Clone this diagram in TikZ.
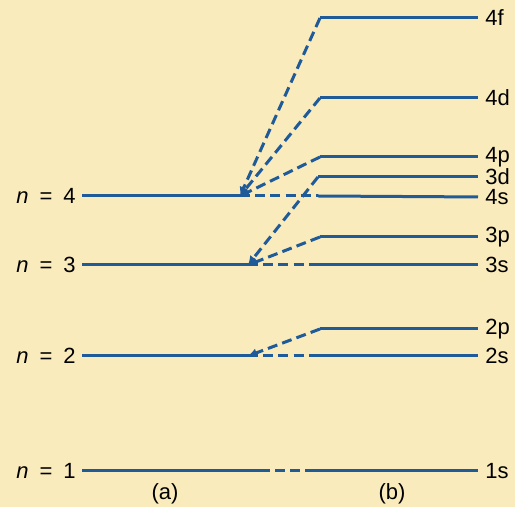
\documentclass[tikz,border=0pt]{standalone}
\usepackage{fontspec}
\setmainfont{Liberation Sans}
\usetikzlibrary{arrows.meta}
\definecolor{lvlblue}{RGB}{31,91,153}
\definecolor{bgyellow}{RGB}{250,235,188}
\newcommand{\nlev}[1]{\textit{n}\enskip=\enskip#1}
\tikzset{lvl/.style={line width=1.5pt,draw=lvlblue},
  split/.style={lvl,dash pattern=on 5pt off 2.6pt},
  lab/.style={inner sep=0pt,font=\fontsize{11}{13}\selectfont}}

\begin{document}
\begin{tikzpicture}[x=0.5pt,y=-0.5pt]
\fill[bgyellow] (0,0) rectangle (515,507);
\useasboundingbox (0,0) rectangle (515,507);
% (a) hydrogen levels
\node[lab,anchor=east] (n4) at (76,196) {\nlev{4}};
\node[lab,anchor=east] (n3) at (76,265) {\nlev{3}};
\node[lab,anchor=east] (n2) at (76,356) {\nlev{2}};
\node[lab,anchor=east] (n1) at (76,471) {\nlev{1}};
\coordinate (c4) at (240,196);
\coordinate (c3) at (248,265);
\coordinate (c2) at (248,356);
\coordinate (c1) at (260,471);
% (b) split levels
\node[lab,anchor=west] (l4f) at (485,18) {4f};
\node[lab,anchor=west] (l4d) at (485,98) {4d};
\node[lab,anchor=west] (l4p) at (485,157) {4p};
\node[lab,anchor=west] (l3d) at (485,177) {3d};
\node[lab,anchor=west] (l4s) at (485,197) {4s};
\node[lab,anchor=west] (l3p) at (485,237) {3p};
\node[lab,anchor=west] (l3s) at (485,265) {3s};
\node[lab,anchor=west] (l2p) at (485,329) {2p};
\node[lab,anchor=west] (l2s) at (485,356) {2s};
\node[lab,anchor=west] (l1s) at (485,471) {1s};
\coordinate (k4f) at (320,18);
\coordinate (k4d) at (320,98);
\coordinate (k4p) at (320,157);
\coordinate (k3d) at (318,177);
\coordinate (k4s) at (318,196);
\coordinate (k3p) at (320,237);
\coordinate (k3s) at (318,265);
\coordinate (k2p) at (320,329);
\coordinate (k2s) at (318,356);
\coordinate (k1s) at (305,471);
% left solid lines
\draw[lvl,shorten <=3pt] (n4.east) -- (c4);
\draw[lvl,shorten <=3pt] (n3.east) -- (c3);
\draw[lvl,shorten <=3pt] (n2.east) -- (c2);
\draw[lvl,shorten <=3pt] (n1.east) -- (c1);
% dashed links with tips
\draw[split,-{Latex[length=4.5pt,width=4.5pt]}] (k4f) -- (c4);
\draw[split,-{Latex[length=4.5pt,width=4.5pt]}] (k4d) -- (c4);
\draw[split,-{Latex[length=4.5pt,width=4.5pt]}] (k4p) -- (c4);
\draw[split,-{Latex[length=4.5pt,width=4.5pt]}] (k3d) -- (c3);
\draw[split,-{Latex[length=4.5pt,width=4.5pt]}] (k3p) -- (c3);
\draw[split,-{Latex[length=4.5pt,width=4.5pt]}] (k2p) -- (c2);
\draw[split] (c4) -- (k4s);
\draw[split] (c3) -- (k3s);
\draw[split] (c2) -- (k2s);
\draw[split] (c1) -- (k1s);
% right solid lines
\foreach \s in {4f,4d,4p,3d,4s,3p,3s,2p,2s,1s}
  \draw[lvl,shorten >=3.5pt] (k\s) -- (l\s.west);
\node[lab] (pa) at (165,494) {(a)};
\node[lab] (pb) at (392,494) {(b)};
\end{tikzpicture}
\end{document}
